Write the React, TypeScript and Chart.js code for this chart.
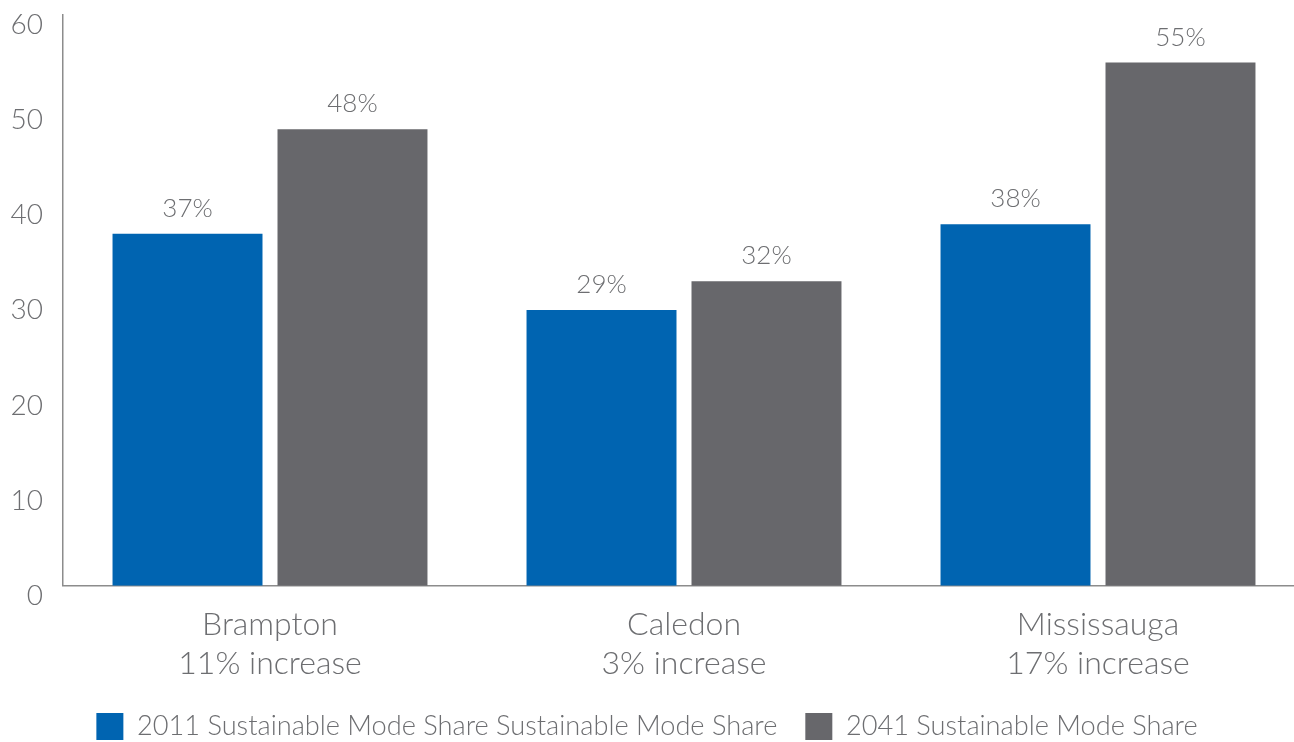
import React, { useEffect, useRef } from "react";
import { Chart, registerables } from "chart.js";

Chart.register(...registerables);

const categories: string[][] = [
  ["Brampton", "11% increase"],
  ["Caledon", "3% increase"],
  ["Mississauga", "17% increase"],
];
const series2011: number[] = [37, 29, 38];
const series2041: number[] = [48, 32, 55];
const seriesNames: string[] = [
  "2011 Sustainable Mode Share Sustainable Mode Share",
  "2041 Sustainable Mode Share",
];
const yTicks: number[] = [0, 10, 20, 30, 40, 50, 60];

const BLUE = "#0064b1";
const GRAY = "#67676b";
const TEXT = "#6d6e71";
const AXIS = "#8c8c8c";
const FONT = "Lato, 'Open Sans', sans-serif";

const valueLabels = {
  id: "valueLabels",
  afterDatasetsDraw(chart: any) {
    const ctx = chart.ctx;
    ctx.save();
    ctx.font = `300 26px ${FONT}`;
    ctx.fillStyle = TEXT;
    ctx.textAlign = "center";
    ctx.textBaseline = "alphabetic";
    chart.data.datasets.forEach((ds: any, di: number) => {
      const meta = chart.getDatasetMeta(di);
      meta.data.forEach((bar: any, i: number) => {
        const v = ds.data[i] as number;
        ctx.fillText(`${Math.round(v)}%`, bar.x, bar.y - 17);
      });
    });
    ctx.restore();
  },
};

export default function App() {
  const ref = useRef<HTMLCanvasElement | null>(null);
  useEffect(() => {
    if (!ref.current) return;
    const chart = new Chart(ref.current, {
      type: "bar",
      data: {
        labels: categories,
        datasets: [
          {
            label: seriesNames[0],
            data: series2011,
            backgroundColor: BLUE,
            borderWidth: 0,
            categoryPercentage: 0.797,
            barPercentage: 0.909,
          },
          {
            label: seriesNames[1],
            data: series2041,
            backgroundColor: GRAY,
            borderWidth: 0,
            categoryPercentage: 0.797,
            barPercentage: 0.909,
          },
        ],
      },
      options: {
        animation: false,
        responsive: false,
        maintainAspectRatio: false,
        layout: { padding: { top: 15, right: 0, bottom: 0, left: 0 } },
        plugins: {
          tooltip: { enabled: false },
          legend: {
            position: "bottom",
            labels: {
              boxWidth: 27,
              boxHeight: 27,
              padding: 28,
              color: TEXT,
              font: { family: FONT, size: 27.2, weight: "300" as any },
            },
          },
        },
        scales: {
          x: {
            grid: { display: false, drawTicks: false },
            border: { display: true, color: AXIS, width: 1.5 },
            ticks: {
              color: TEXT,
              padding: 19,
              font: { family: FONT, size: 32, weight: "300" as any, lineHeight: 1.22 },
              maxRotation: 0,
              autoSkip: false,
            },
            afterFit(scale: any) {
              scale.height = 99;
              scale.paddingLeft = 0;
              scale.paddingRight = 0;
            },
          },
          y: {
            min: 0,
            max: 60,
            afterBuildTicks(scale: any) {
              scale.ticks = yTicks.map((v) => ({ value: v }));
            },
            grid: { display: false, drawTicks: false },
            border: { display: true, color: AXIS, width: 1.5 },
            ticks: {
              color: TEXT,
              padding: 20,
              labelOffset: 10,
              font: { family: FONT, size: 28, weight: "300" as any },
            },
            afterFit(scale: any) {
              scale.width = 74;
              scale.paddingTop = 0;
              scale.paddingBottom = 0;
            },
          },
        },
      },
      plugins: [valueLabels],
    });
    return () => chart.destroy();
  }, []);
  return (
    <div
      style={{
        position: "fixed",
        left: 0,
        top: 0,
        width: 1294,
        height: 742,
        overflow: "hidden",
        background: "#fff",
      }}
    >
      <div style={{ position: "absolute", left: -11, top: 0, width: 1316, height: 750 }}>
        <canvas ref={ref} width={1316} height={750} style={{ width: 1316, height: 750 }} />
      </div>
    </div>
  );
}
